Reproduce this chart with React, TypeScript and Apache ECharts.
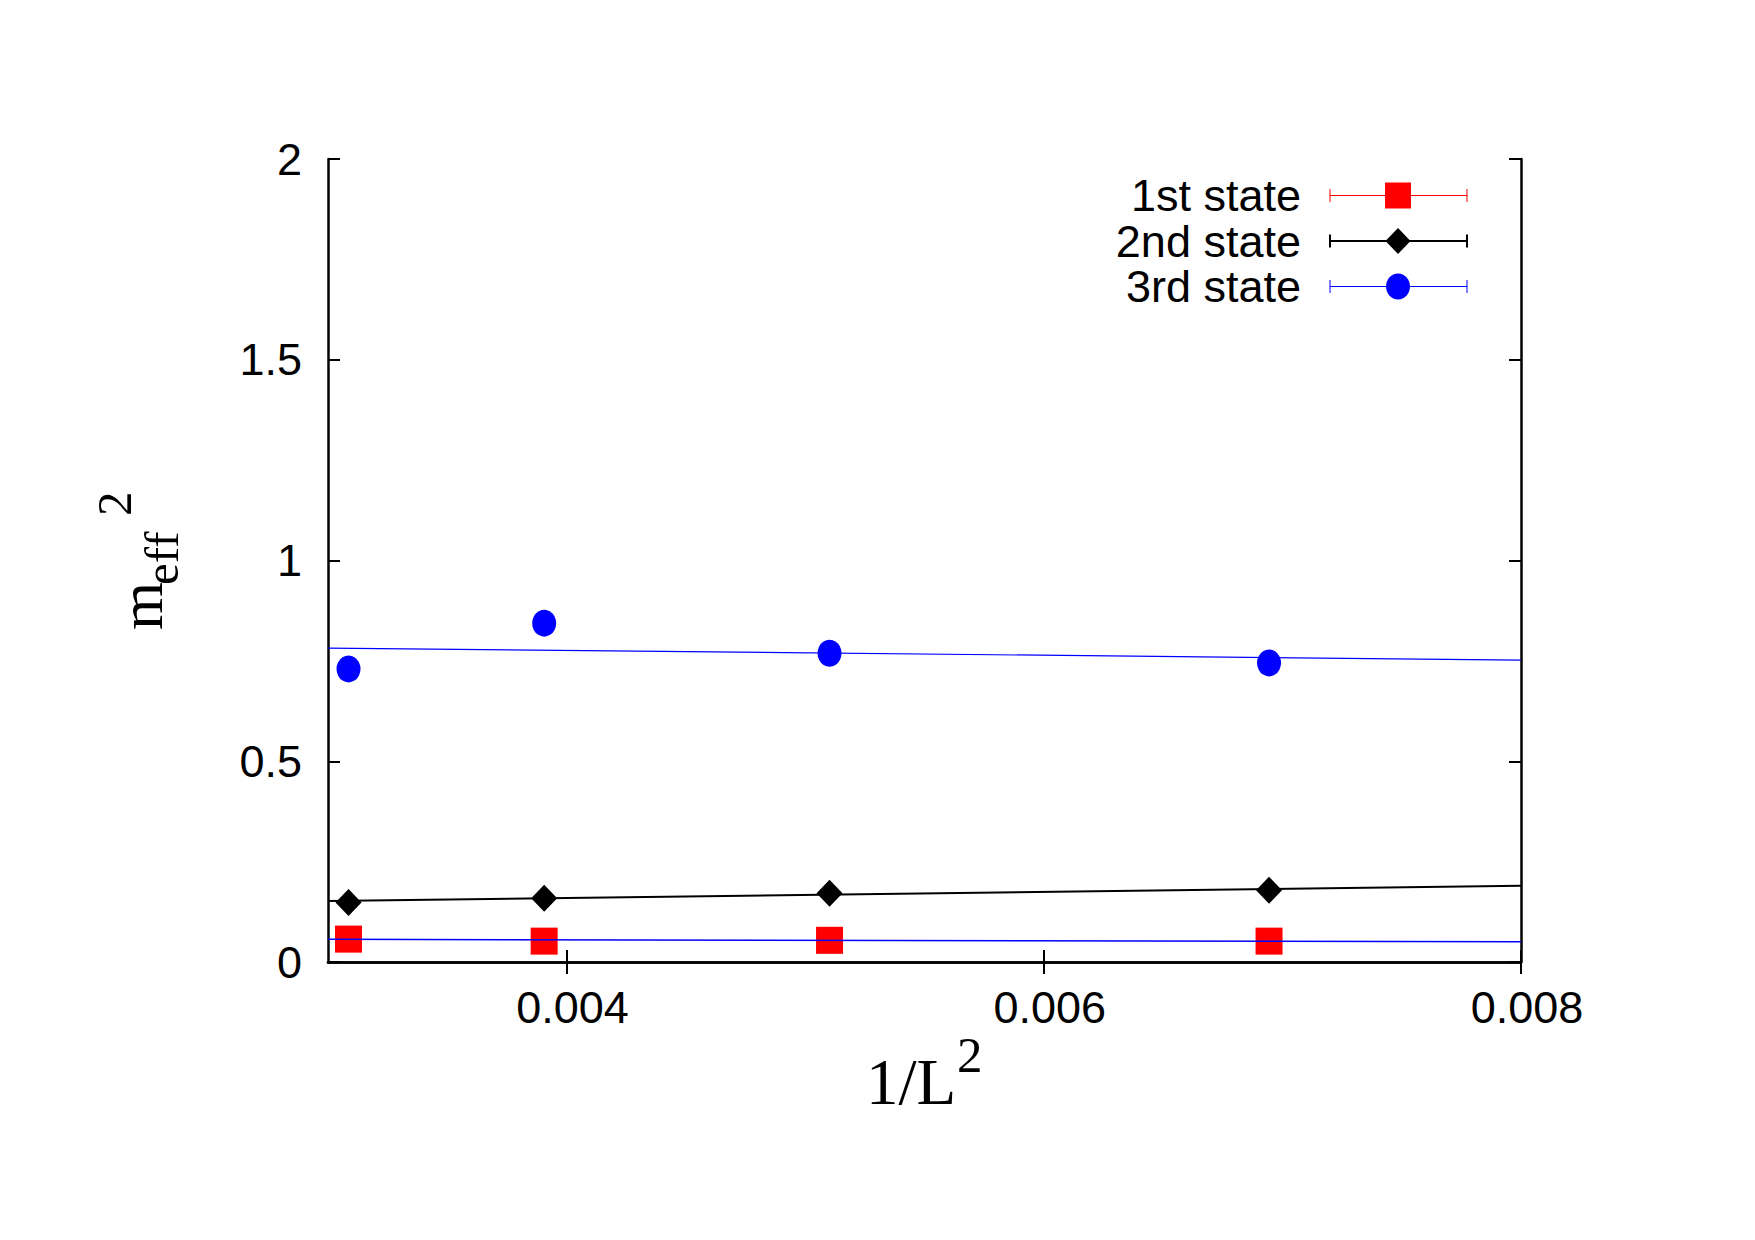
import React, { useEffect, useRef } from 'react';
import * as echarts from 'echarts';

// 1/L^2 values of the four lattice sizes
const xValues = [0.003086, 0.003906, 0.005102, 0.006944];
// effective masses squared
const state1 = [0.057, 0.052, 0.054, 0.052];
const state2 = [0.148, 0.159, 0.171, 0.179];
const state3 = [0.730, 0.844, 0.769, 0.745];
// linear fits (endpoints of the drawn range)
const fitX = [0.003, 0.008];
const fit1 = [0.0565, 0.0506];
const fit2 = [0.152, 0.190];
const fit3 = [0.782, 0.752];
// ticks
const xTicks = [0.004, 0.006, 0.008];
const seriesNames = ['1st state', '2nd state', '3rd state'];
const seriesColors = ['#ff0000', '#000000', '#0000ff'];

const SANS = '"Liberation Sans", Arial, sans-serif';
const SERIF = '"Liberation Serif", "Times New Roman", serif';

export default function App() {
  const ref = useRef<HTMLDivElement>(null);
  useEffect(() => {
    if (!ref.current) return;
    const chart = echarts.init(ref.current, null, { renderer: 'svg' });
    const pts = (ys: number[]) => xValues.map((x, i) => [x, ys[i]]);
    const fit = (ys: number[]) => fitX.map((x, i) => [x, ys[i]]);

    const axisCommon = {
      type: 'value' as const,
      splitLine: { show: false },
      axisLine: { show: true, lineStyle: { color: '#000', width: 2.5 } },
    };

    // legend graphics
    const legendEls: any[] = [];
    const rowY = [195.5, 241, 286.5];
    const lx1 = 1330, lx2 = 1467, mx = 1398;
    const symbols = ['square', 'diamond', 'circle'];
    const lws = [1, 2, 1];
    seriesNames.forEach((name, i) => {
      const cy = rowY[i];
      const c = seriesColors[i];
      legendEls.push({
        type: 'text', x: 1301, y: cy,
        style: { text: name, fontSize: 45, lineHeight: 40, fontFamily: SANS, fill: '#000', align: 'right', verticalAlign: 'middle' },
      });
      legendEls.push({ type: 'line', shape: { x1: lx1, y1: cy, x2: lx2, y2: cy }, style: { stroke: c, lineWidth: lws[i] } });
      legendEls.push({ type: 'line', shape: { x1: lx1, y1: cy - 6.5, x2: lx1, y2: cy + 6.5 }, style: { stroke: c, lineWidth: lws[i] } });
      legendEls.push({ type: 'line', shape: { x1: lx2, y1: cy - 6.5, x2: lx2, y2: cy + 6.5 }, style: { stroke: c, lineWidth: lws[i] } });
      if (symbols[i] === 'square') {
        legendEls.push({ type: 'rect', shape: { x: mx - 13, y: cy - 13, width: 26, height: 26 }, style: { fill: c } });
      } else if (symbols[i] === 'diamond') {
        legendEls.push({ type: 'polygon', shape: { points: [[mx, cy - 13], [mx + 12.5, cy], [mx, cy + 13], [mx - 12.5, cy]] }, style: { fill: c } });
      } else {
        legendEls.push({ type: 'ellipse', shape: { cx: mx, cy, rx: 12, ry: 13 }, style: { fill: c } });
      }
    });

    const option: any = {
      animation: false,
      backgroundColor: '#fff',
      grid: { left: 328, top: 159, right: 234, bottom: 278, show: false },
      xAxis: [
        {
          ...axisCommon, position: 'bottom', min: 0.003, max: 0.008,
          axisTick: { show: true, inside: true, length: 12, customValues: xTicks, lineStyle: { color: '#000', width: 2 } },
          axisLabel: { customValues: xTicks, fontSize: 45, fontFamily: SANS, color: '#000', margin: 23, padding: [0, 0, 0, 12] },
        },
        {
          ...axisCommon, position: 'top', min: 0.003, max: 0.008,
          axisTick: { show: true, inside: true, length: 12, customValues: xTicks, lineStyle: { color: '#000', width: 2 } },
          axisLabel: { show: false },
        },
      ],
      yAxis: [
        {
          ...axisCommon, position: 'left', min: 0, max: 2, interval: 0.5,
          axisTick: { show: true, inside: true, length: 12, lineStyle: { color: '#000', width: 2 } },
          axisLabel: { fontSize: 45, fontFamily: SANS, color: '#000', margin: 26 },
        },
        {
          ...axisCommon, position: 'right', min: 0, max: 2, interval: 0.5,
          axisTick: { show: true, inside: true, length: 12, lineStyle: { color: '#000', width: 2 } },
          axisLabel: { show: false },
        },
      ],
      series: [
        { name: seriesNames[0], type: 'scatter', data: pts(state1), symbol: 'rect', symbolSize: 27, itemStyle: { color: seriesColors[0], opacity: 1 }, silent: true, z: 2 },
        { name: seriesNames[1], type: 'scatter', data: pts(state2), symbol: 'diamond', symbolSize: [26, 27], itemStyle: { color: seriesColors[1], opacity: 1 }, silent: true, z: 2 },
        { name: seriesNames[2], type: 'scatter', data: pts(state3), symbol: 'circle', symbolSize: [24, 27], itemStyle: { color: seriesColors[2], opacity: 1 }, silent: true, z: 2 },
        { type: 'line', data: fit(fit1), symbol: 'none', lineStyle: { color: '#0000ff', width: 1.5 }, silent: true, z: 3 },
        { type: 'line', data: fit(fit2), symbol: 'none', lineStyle: { color: '#000000', width: 2 }, silent: true, z: 3 },
        { type: 'line', data: fit(fit3), symbol: 'none', lineStyle: { color: '#0000ff', width: 1.2 }, silent: true, z: 3 },
      ],
      graphic: [
        // x axis title 1/L^2
        { type: 'text', x: 866, y: 1082, style: { text: '1/L', fontSize: 65, fontFamily: SERIF, fill: '#000', align: 'left', verticalAlign: 'middle' } },
        { type: 'text', x: 957, y: 1055, style: { text: '2', fontSize: 51, fontFamily: SERIF, fill: '#000', align: 'left', verticalAlign: 'middle' } },
        // y axis title m_eff^2 (rotated)
        { type: 'text', x: 141, y: 630, rotation: Math.PI / 2, style: { text: 'm', fontSize: 62, fontFamily: SERIF, fill: '#000', align: 'left', verticalAlign: 'middle' } },
        { type: 'text', x: 161.5, y: 585, rotation: Math.PI / 2, style: { text: 'eff', fontSize: 49, fontFamily: SERIF, fill: '#000', align: 'left', verticalAlign: 'middle' } },
        { type: 'text', x: 114, y: 516, rotation: Math.PI / 2, style: { text: '2', fontSize: 49, fontFamily: SERIF, fill: '#000', align: 'left', verticalAlign: 'middle' } },
        ...legendEls,
      ],
    };
    chart.setOption(option);
    return () => chart.dispose();
  }, []);
  return <div ref={ref} style={{ position: 'fixed', left: 0, top: 0, width: 1755, height: 1240, background: '#fff' }} />;
}
